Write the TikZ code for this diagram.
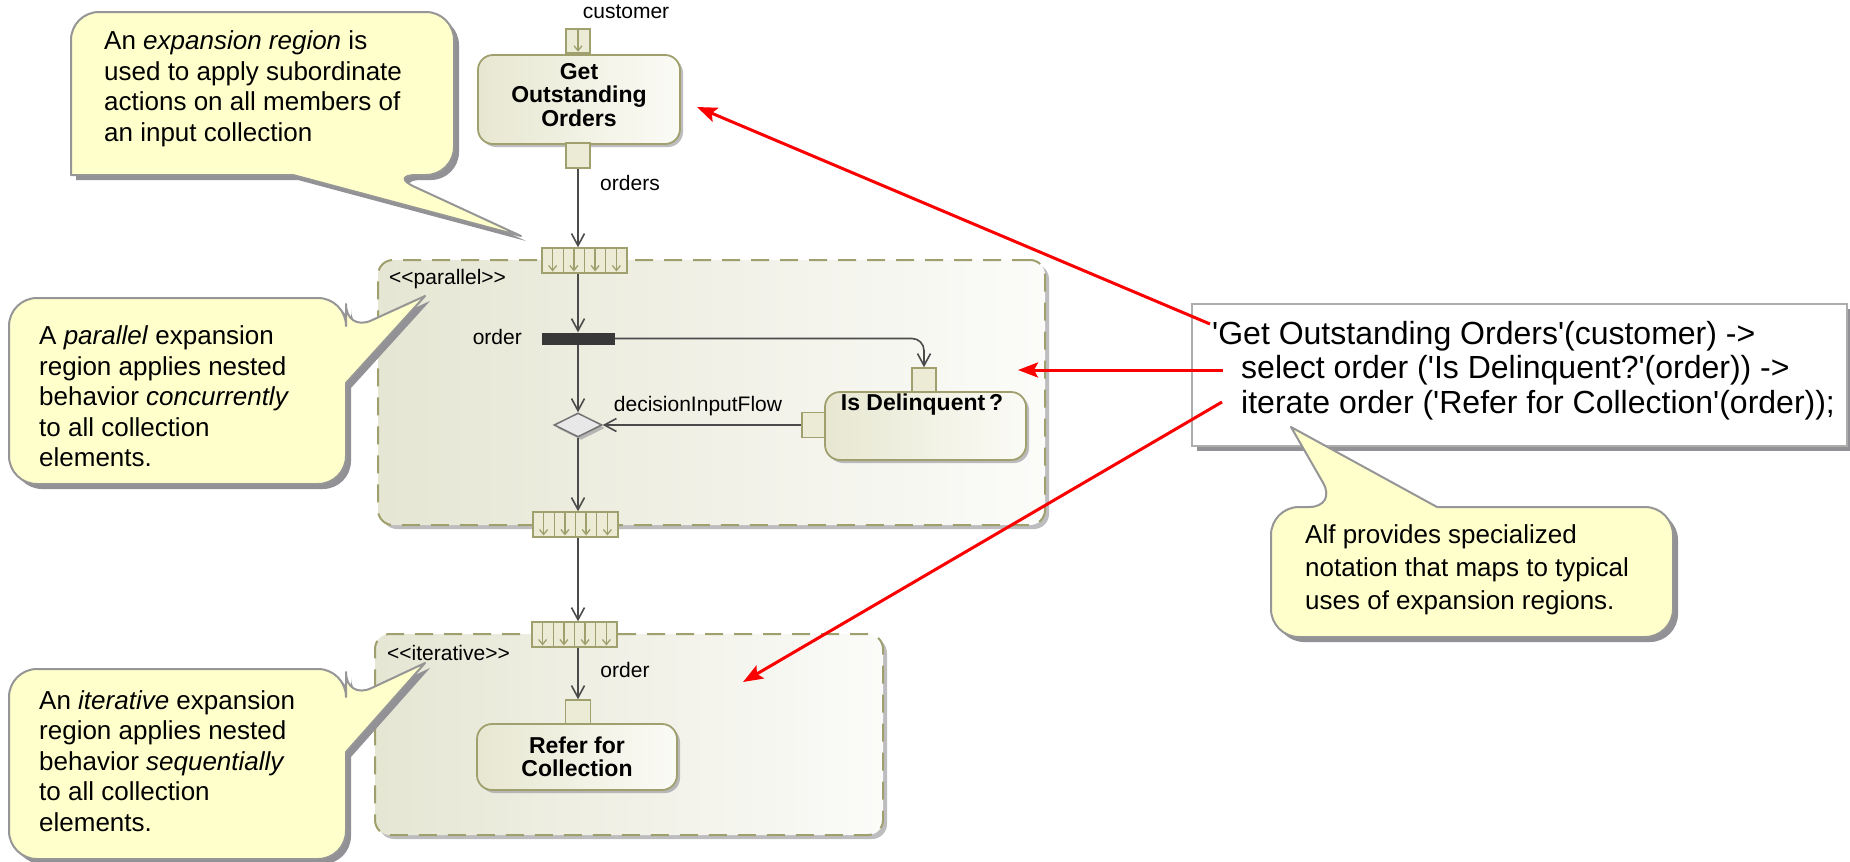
\documentclass[tikz,border=0pt]{standalone}
\usepackage{fontspec}
\setmainfont{Liberation Sans}[Ligatures=TeXOff]
\usetikzlibrary{arrows.meta,shadows,shapes.geometric,calc}

\definecolor{calloutfill}{RGB}{255,255,204}
\definecolor{calloutedge}{RGB}{150,150,150}
\definecolor{shadowgray}{RGB}{145,145,150}
\definecolor{umlolive}{RGB}{160,160,110}
\definecolor{actleft}{RGB}{231,231,209}
\definecolor{actright}{RGB}{251,251,246}
\definecolor{regleft}{RGB}{230,230,212}
\definecolor{regright}{RGB}{251,251,249}
\definecolor{flowgray}{RGB}{75,75,75}
\definecolor{pinfill}{RGB}{236,236,214}
\definecolor{arrowred}{RGB}{250,0,0}

\tikzset{
  lbl/.style={font=\fontsize{21}{23}\selectfont, inner sep=0pt, text=black},
  callouttext/.style={font=\fontsize{26}{30.5}\selectfont, align=left, inner sep=0pt, anchor=west},
  callout/.style={fill=calloutfill, draw=calloutedge, line width=2pt, line join=round,
    drop shadow={shadow xshift=5pt, shadow yshift=-5pt, fill=shadowgray, opacity=1}},
  actionbox/.style={rectangle, rounded corners=15pt, draw=umlolive, line width=1.8pt,
    left color=actleft, right color=actright, inner sep=0pt, align=center,
    font=\fontsize{23}{23.5}\selectfont\bfseries,
    drop shadow={shadow xshift=3pt, shadow yshift=-3pt, fill=shadowgray, opacity=0.6}},
  actiontext/.style={font=\fontsize{23}{23.5}\selectfont\bfseries, inner sep=0pt, align=center},
  regionbox/.style={rectangle, rounded corners=15pt, draw=umlolive, line width=2pt,
    dash pattern=on 18pt off 11pt, left color=regleft, right color=regright, inner sep=0pt,
    drop shadow={shadow xshift=4pt, shadow yshift=-4pt, fill=shadowgray, opacity=0.6}},
  pinbox/.style={rectangle, inner sep=0pt, fill=pinfill, draw=umlolive, line width=1.5pt},
  expbox/.style={rectangle, inner sep=0pt, minimum width=85pt, minimum height=25pt,
    fill=pinfill, draw=umlolive, line width=1.5pt},
  expline/.style={draw=umlolive, line width=1.3pt},
  flow/.style={draw=flowgray, line width=1.6pt, -{Straight Barb[length=12pt,width=13pt,line width=1.6pt]}},
  forkbar/.style={rectangle, inner sep=0pt, fill=black!78, minimum width=73pt, minimum height=12pt},
  decisionbox/.style={diamond, aspect=2, inner sep=0pt, minimum width=48pt, minimum height=24pt,
    fill=black!9, draw=black!55, line width=1.5pt,
    drop shadow={shadow xshift=3pt, shadow yshift=-3pt, fill=shadowgray, opacity=0.6}},
  codebox/.style={rectangle, inner sep=0pt, fill=white, draw=black!32, line width=2pt,
    drop shadow={shadow xshift=5pt, shadow yshift=-5pt, fill=shadowgray, opacity=1}},
  codetext/.style={font=\fontsize{32}{34.5}\selectfont, align=left, inner sep=0pt, anchor=west},
  redarrow/.style={draw=arrowred, line width=3pt, -{Stealth[length=20pt,width=15pt,inset=4pt]}},
  expnode/.pic={
    \node[expbox] (-box) at (0,0) {};
    \foreach \dx in {-21.25,0,21.25}
      \draw[expline] (\dx,-12.5) -- (\dx,12.5);
    \foreach \dx in {-31.9,-10.6,10.6,31.9}
      \draw[expline,-{Straight Barb[length=5pt,width=8pt]}] (\dx,-12.5) -- (\dx,11);
  }
}

\begin{document}
\begin{tikzpicture}[x=1pt,y=-1pt]
\useasboundingbox (0,0) rectangle (1850,862);
\fill[white] (0,0) rectangle (1850,862);

% expansion regions
\node[regionbox, minimum width=667pt, minimum height=265pt] (parregion) at (711.5,392.5) {};
\node[regionbox, minimum width=508pt, minimum height=201pt] (iterregion) at (629,734.5) {};
\node[lbl, anchor=west] (parlabel) at (389,279) {<<parallel>>};
\node[lbl, anchor=west] (iterlabel) at (387,653) {<<iterative>>};

% actions
\node[actionbox, minimum width=202pt, minimum height=89pt] (getorders) at (579,99.5) {};
\node[actiontext] (getorderstext) at (579,95) {Get\\Outstanding\\Orders};
\node[actionbox, minimum width=201pt, minimum height=68pt] (isdel) at (925.5,426) {};
\node[actiontext] (isdeltext) at (922,405) {Is Delinquent\,?};
\node[actionbox, minimum width=200pt, minimum height=66pt] (refer) at (577,757)
  {Refer for\\Collection};

% pins
\node[pinbox, minimum width=24pt, minimum height=24pt] (cpin) at (578,41) {};
\draw[expline,-{Straight Barb[length=5pt,width=8pt]}] (cpin.north) -- ([yshift=2pt]cpin.south);
\node[pinbox, minimum width=24pt, minimum height=25pt] (gopin) at (578,155.5) {};
\node[pinbox, minimum width=24pt, minimum height=24pt] (idpin) at (924,380) {};
\node[pinbox, minimum width=23pt, minimum height=25pt] (idlpin) at (813.5,425) {};
\node[pinbox, minimum width=25pt, minimum height=24pt] (rpin) at (578,712) {};

% expansion nodes
\pic (exp1) at (584.5,260.5) {expnode};
\pic (exp2) at (575.5,524.5) {expnode};
\pic (exp3) at (574.5,634.5) {expnode};

% control nodes
\node[forkbar] (fork) at (578,338.5) {};
\node[decisionbox] (decision) at (578,425) {};

% flow labels
\node[lbl] (customerlbl) at (626,12) {customer};
\node[lbl] (orderslbl) at (630,183) {orders};
\node[lbl, anchor=east] (orderlbl) at (522,337) {order};
\node[lbl] (dflowlbl) at (698,406) {decisionInputFlow};
\node[lbl] (iterorderlbl) at (625,670) {order};

% object flows
\draw[flow] (gopin.south) -- (gopin.south |- exp1-box.north);
\draw[flow] (gopin.south |- exp1-box.south) -- (fork.north);
\draw[flow] (fork.south) -- (decision.north);
\draw[flow, rounded corners=12pt] (fork.east) -- (fork.east -| idpin.north) -- (idpin.north);
\draw[flow] (idlpin.west) -- (decision.east);
\draw[flow] (decision.south) -- (decision.south |- exp2-box.north);
\draw[flow] (decision.south |- exp2-box.south) -- (decision.south |- exp3-box.north);
\draw[flow] (decision.south |- exp3-box.south) -- (rpin.north);

% Alf text
\node[codebox, minimum width=655pt, minimum height=142pt] (code) at (1519.5,375) {};
\node[codetext] (codetxt) at (1212,370.5)
  {'Get Outstanding Orders'(customer) ->\\
   \hspace*{29pt}select order ('Is Delinquent?'(order)) ->\\
   \hspace*{29pt}iterate order ('Refer for Collection'(order));};

% callouts
\path[callout] (71,90) [rounded corners=28pt] -- (71,12) -- (454,12) -- (454,175) -- (389,175)
  [sharp corners] -- (521,236) -- (293,175) -- (71,175) [rounded corners=28pt] -- cycle;
\node[callouttext] (note1) at (104,89)
  {An \textit{expansion region} is\\used to apply subordinate\\actions on all members of\\an input collection};

\path[callout] (9,390) [rounded corners=28pt] -- (9,298) -- (346,298) -- (346,332)
  [sharp corners] -- (425,296) -- (346,383) [rounded corners=28pt] -- (346,484) -- (9,484) -- cycle;
\node[callouttext] (note2) at (39,396.5)
  {A \textit{parallel} expansion\\region applies nested\\behavior \textit{concurrently}\\to all collection\\elements.};

\path[callout] (9,760) [rounded corners=28pt] -- (9,669) -- (346,669) -- (346,700)
  [sharp corners] -- (425,663) -- (346,752) [rounded corners=28pt] -- (346,859) -- (9,859) -- cycle;
\node[callouttext] (note3) at (39,761)
  {An \textit{iterative} expansion\\region applies nested\\behavior \textit{sequentially}\\to all collection\\elements.};

\path[callout] (1271,570) [rounded corners=28pt] -- (1271,507) -- (1337,507)
  [sharp corners] -- (1291,427) -- (1437,507) [rounded corners=28pt] -- (1673,507) -- (1673,637) -- (1271,637) -- cycle;
\node[callouttext, font=\fontsize{26}{33}\selectfont] (note4) at (1305,570)
  {Alf provides specialized\\notation that maps to typical\\uses of expansion regions.};

% links from the Alf text to the diagram
\coordinate (r1s) at (1210,324);
\coordinate (r1t) at (697,107);
\coordinate (r2s) at (1223,370);
\coordinate (r2t) at (1018,370);
\coordinate (r3s) at (1222,402);
\coordinate (r3t) at (743,682);
\draw[redarrow] (r1s) -- (r1t);
\draw[redarrow] (r2s) -- (r2t);
\draw[redarrow] (r3s) -- (r3t);
\end{tikzpicture}
\end{document}
